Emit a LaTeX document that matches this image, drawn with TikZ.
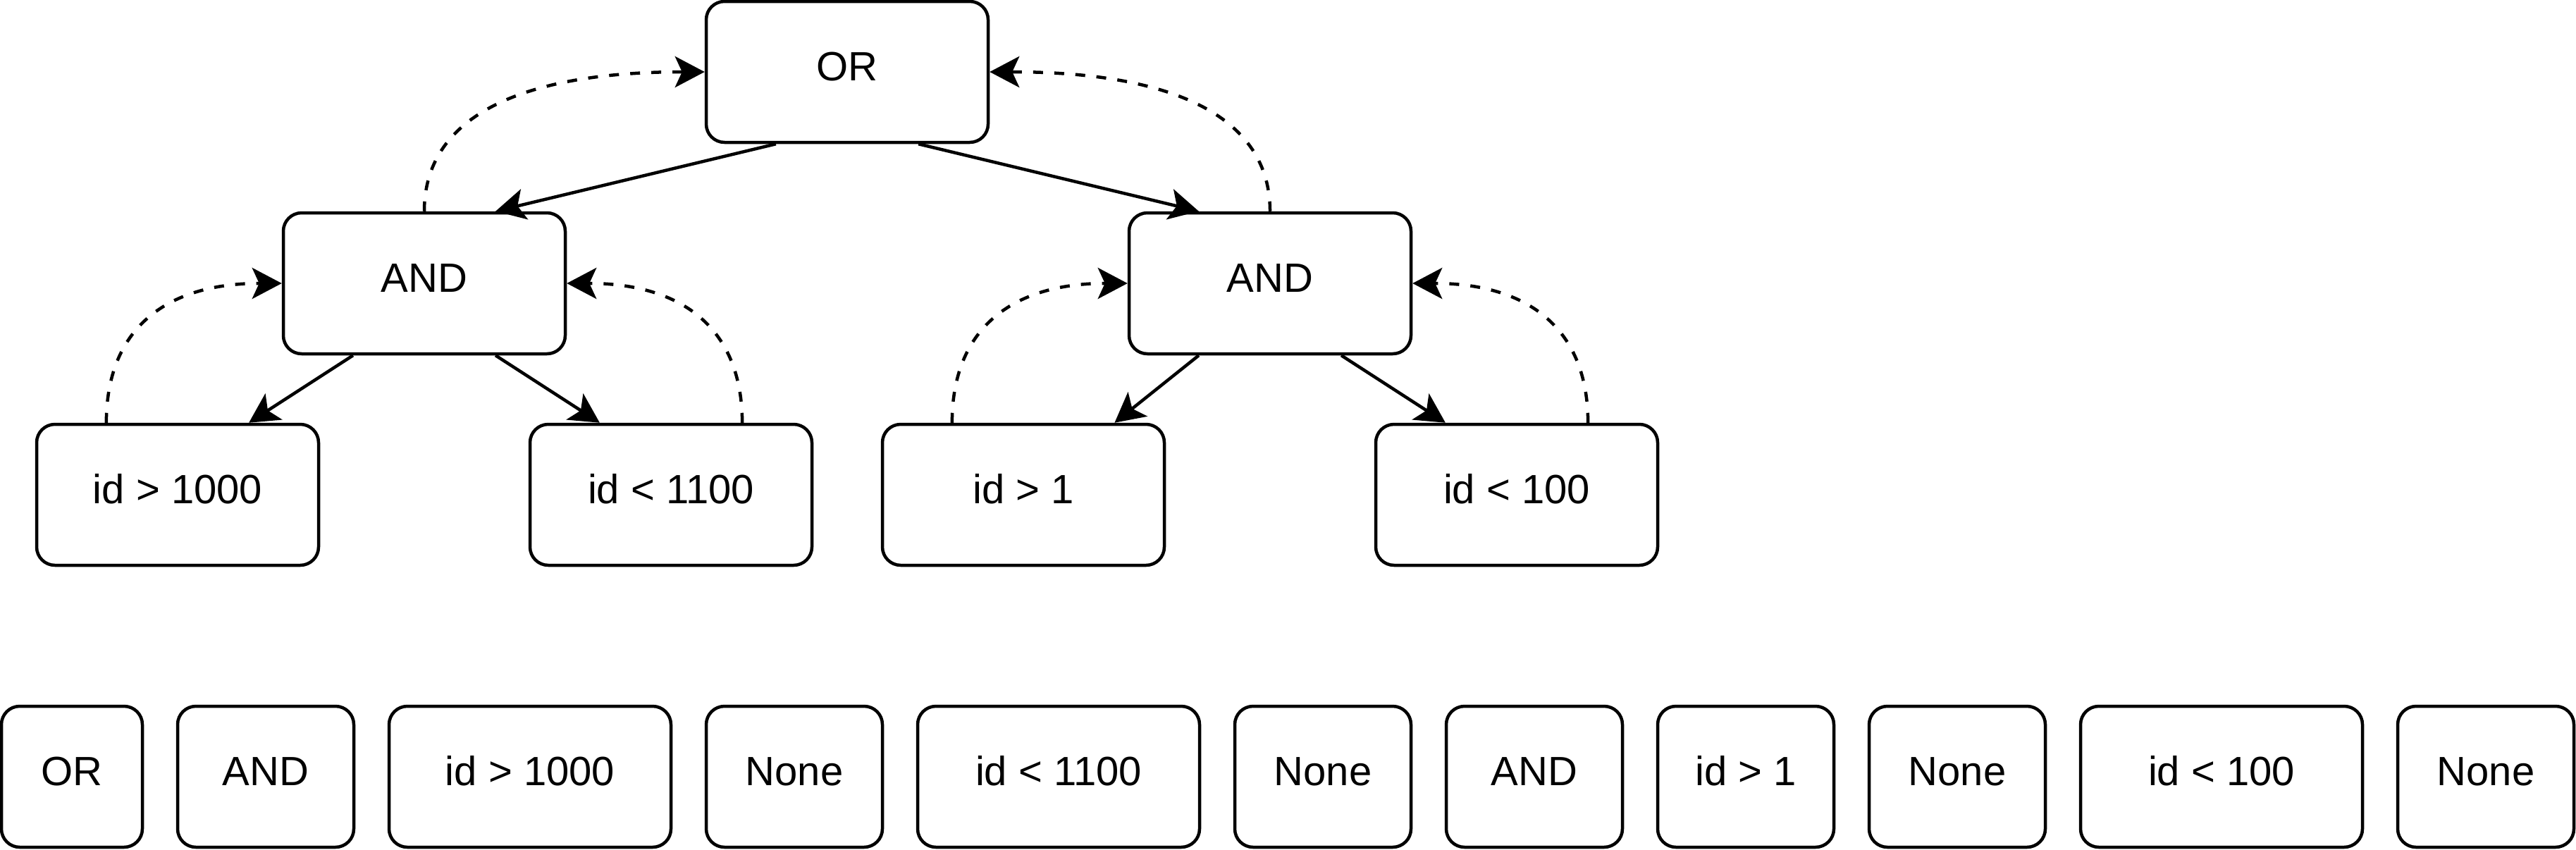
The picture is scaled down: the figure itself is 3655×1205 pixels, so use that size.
\documentclass[tikz,border=0pt]{standalone}
\usepackage{fontspec}
\setmainfont{Liberation Sans}
\usetikzlibrary{arrows.meta,calc}
\tikzset{
  nodebox/.style={draw=black, line width=4.5pt, rounded corners=26pt, fill=white,
    minimum height=200pt, inner sep=0pt, text height=42pt, text depth=18pt,
    font=\fontsize{58pt}{70pt}\selectfont},
  wide/.style={nodebox, minimum width=400pt},
  narrow/.style={nodebox, minimum width=250pt},
  tiny/.style={nodebox, minimum width=200pt},
  tipstyle/.style={-{Stealth[length=42pt,width=44pt,inset=10pt]}},
  flow/.style={tipstyle, line width=4.5pt},
  back/.style={tipstyle, line width=4.5pt, dash pattern=on 14pt off 16pt}
}
\begin{document}
\begin{tikzpicture}[x=1pt,y=-1pt]
\fill[white] (0,0) rectangle (3655,1205);
\useasboundingbox (0,0) rectangle (3655,1205);
% tree
\node[wide] (or) at (1202,102) {OR};
\node[wide] (andL) at (602,402) {AND};
\node[wide] (andR) at (1802,402) {AND};
\node[wide] (l1) at (252,702) {id > 1000};
\node[wide] (l2) at (952,702) {id < 1100};
\node[wide] (l3) at (1452,702) {id > 1};
\node[wide] (l4) at (2152,702) {id < 100};
% bottom row
\node[tiny] (b1) at (102,1102) {OR};
\node[narrow] (b2) at (377,1102) {AND};
\node[wide] (b3) at (752,1102) {id > 1000};
\node[narrow] (b4) at (1127,1102) {None};
\node[wide] (b5) at (1502,1102) {id < 1100};
\node[narrow] (b6) at (1877,1102) {None};
\node[narrow] (b7) at (2177,1102) {AND};
\node[narrow] (b8) at (2477,1102) {id > 1};
\node[narrow] (b9) at (2777,1102) {None};
\node[wide] (b10) at (3152,1102) {id < 100};
\node[narrow] (b11) at (3527,1102) {None};
% anchor points for solid edges
\coordinate (orA) at ($(or.south west)!0.25!(or.south east)$);
\coordinate (orB) at ($(or.south west)!0.75!(or.south east)$);
\coordinate (andLin) at ($(andL.north west)!0.75!(andL.north east)$);
\coordinate (andRin) at ($(andR.north west)!0.25!(andR.north east)$);
\coordinate (andLa) at ($(andL.south west)!0.25!(andL.south east)$);
\coordinate (andLb) at ($(andL.south west)!0.75!(andL.south east)$);
\coordinate (andRa) at ($(andR.south west)!0.25!(andR.south east)$);
\coordinate (andRb) at ($(andR.south west)!0.75!(andR.south east)$);
\coordinate (l1in) at ($(l1.north west)!0.75!(l1.north east)$);
\coordinate (l2in) at ($(l2.north west)!0.25!(l2.north east)$);
\coordinate (l3in) at ($(l3.north west)!0.82!(l3.north east)$);
\coordinate (l4in) at ($(l4.north west)!0.25!(l4.north east)$);
\draw[flow] (orA) -- (andLin);
\draw[flow] (orB) -- (andRin);
\draw[flow] (andLa) -- (l1in);
\draw[flow] (andLb) -- (l2in);
\draw[flow] (andRa) -- (l3in);
\draw[flow] (andRb) -- (l4in);
% dashed return curves (quadratic with control at the corner)
\coordinate (l1out) at ($(l1.north west)!0.25!(l1.north east)$);
\coordinate (l2out) at ($(l2.north west)!0.75!(l2.north east)$);
\coordinate (l3out) at ($(l3.north west)!0.25!(l3.north east)$);
\coordinate (l4out) at ($(l4.north west)!0.75!(l4.north east)$);
\coordinate (k1) at (andL.north |- or.west);
\coordinate (k2) at (andR.north |- or.east);
\coordinate (k3) at (l1out |- andL.west);
\coordinate (k4) at (l2out |- andL.east);
\coordinate (k5) at (l3out |- andR.west);
\coordinate (k6) at (l4out |- andR.east);
\draw[back] (andL.north) .. controls ($(andL.north)!0.6667!(k1)$) and ($(or.west)!0.6667!(k1)$) .. (or.west);
\draw[back] (andR.north) .. controls ($(andR.north)!0.6667!(k2)$) and ($(or.east)!0.6667!(k2)$) .. (or.east);
\draw[back] (l1out) .. controls ($(l1out)!0.6667!(k3)$) and ($(andL.west)!0.6667!(k3)$) .. (andL.west);
\draw[back] (l2out) .. controls ($(l2out)!0.6667!(k4)$) and ($(andL.east)!0.6667!(k4)$) .. (andL.east);
\draw[back] (l3out) .. controls ($(l3out)!0.6667!(k5)$) and ($(andR.west)!0.6667!(k5)$) .. (andR.west);
\draw[back] (l4out) .. controls ($(l4out)!0.6667!(k6)$) and ($(andR.east)!0.6667!(k6)$) .. (andR.east);
\end{tikzpicture}
\end{document}
